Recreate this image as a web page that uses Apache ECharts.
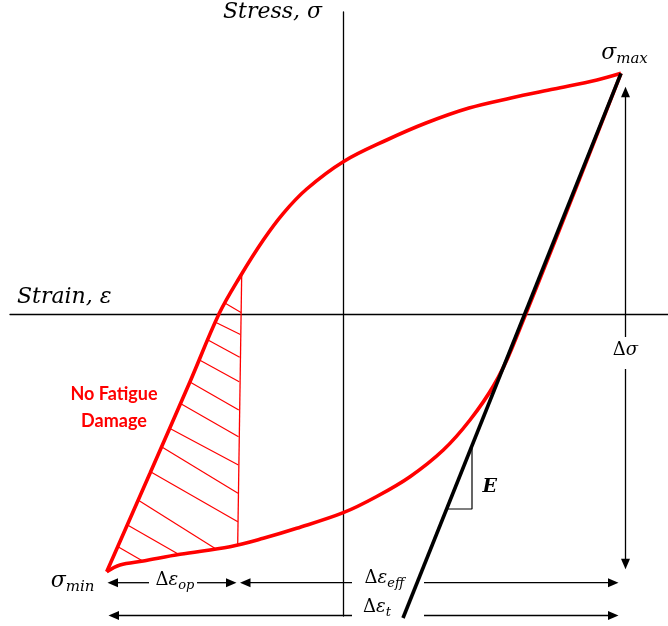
<!DOCTYPE html>
<html>
<head>
<meta charset="utf-8">
<script src="https://cdn.jsdelivr.net/npm/echarts@6/dist/echarts.min.js"></script>
<style>
  html, body { margin: 0; padding: 0; background: #fff; }
  #chart { width: 668px; height: 626px; }
</style>
</head>
<body>
<div id="chart"></div>
<script>
// Cyclic stress–strain hysteresis loop with crack-closure (effective strain range).
// Units are arbitrary; the origin is where the strain and stress axes cross.

// Loading branch, from sigma_min up to sigma_max
const loadStrain = [-236.3, -193, -153, -123.7, -103, -79.7, -59.7, -36.3, 0.3, 43.7, 83, 126, 168, 211, 254, 278];
const loadStress = [-257.7, -159.3, -67.7, 0.7, 37.3, 74, 100.7, 125, 152.3, 174, 191, 206, 216, 225, 234, 240.7];

// Unloading branch, from sigma_max back down to sigma_min
const unloadStrain = [278, 169, 151, 127, 100.3, 67, 33.7, 0.3, -46.3, -79.7, -113, -163, -199.7, -223, -236.3];
const unloadStress = [240.7, -34, -71, -106, -136, -162.7, -182.5, -198.7, -214.3, -224.3, -232.7, -240.3, -247, -251, -257.7];

// Elastic line with modulus E, through sigma_max
const elasticStrain = [278, 60];
const elasticStress = [240.7, -304];

// Slope triangle marking E
const slopeStrain = [104, 129, 129];
const slopeStress = [-195, -195, -134];

// Crack-opening cut-off: top on the loading branch, bottom on the unloading branch
const openingStrain = [-101.3, -105.3];
const openingStress = [40, -230];

// Hatch strokes of the no-damage region (start on loading branch, end on cut-off / unloading branch)
const hatchStrain0 = [-119, -127, -135, -143.5, -153.5, -163, -173.5, -181.5, -192.5, -205, -215.5, -225];
const hatchStress0 = [11.5, -8.5, -26, -46, -67.7, -89.3, -114.3, -132.7, -157.7, -186, -211, -232.7];
const hatchStrain1 = [-102, -102.6, -103.3, -103.8, -104.2, -104.5, -104.6, -105, -105.2, -127.8, -164, -200.3];
const hatchStress1 = [1.5, -20.5, -43.3, -67.7, -96, -122.7, -151, -179.3, -207.7, -234.5, -240.5, -247];

// Range annotations: double-headed dimension arrows
const rangeNames = ['Δε_op', 'Δε_eff', 'Δε_t', 'Δσ'];
const rangeFrom  = [[-235.5, -268.7], [-103, -268.7], [-234.5, -301.5], [282.5, 227.3]];
const rangeTo    = [[-106.5, -268.7], [275.5, -268.7], [275.5, -301.5], [282.5, -255.3]];
const rangeGap   = [[-194, -146], [9, 81], [9, 81], [-23, -55]];

// Symbol labels: upright prefix, italic symbol, italic subscript
const symbolPre  = ['', '', 'Δ', 'Δ', 'Δ', 'Δ'];
const symbolBase = ['σ', 'σ', 'σ', 'ε', 'ε', 'ε'];
const symbolSub  = ['max', 'min', '', 'op', 'eff', 't'];
const symbolAt   = [[281.5, 260.7], [-270.5, -267], [282.5, -36.5], [-168, -266], [41.4, -264], [34, -293]];

const RED = '#ff0000';
const INK = '#000000';
const MATH_FONT = '"DejaVu Serif", "Liberation Serif", serif';

const pairs = (xs, ys) => xs.map((x, i) => [x, ys[i]]);

const measureCtx = document.createElement('canvas').getContext('2d');
function textWidth(str, font) {
  measureCtx.font = font;
  return measureCtx.measureText(str).width;
}

function textEl(x, y, text, font, fill, align) {
  return {
    type: 'text', x: x, y: y,
    style: { text: text, font: font, fill: fill, align: align || 'left', verticalAlign: 'middle',
             textAlign: align || 'left', textVerticalAlign: 'middle' }
  };
}

const chart = echarts.init(document.getElementById('chart'), null, { renderer: 'canvas' });

const option = {
  animation: false,
  backgroundColor: '#ffffff',
  grid: { left: 10, right: 0, top: 12, bottom: 10, containLabel: false },
  xAxis: {
    type: 'value', min: -333, max: 325,
    name: 'Strain, ε',
    nameLocation: 'start',
    nameGap: -7,
    nameTextStyle: {
      fontFamily: MATH_FONT, fontStyle: 'italic', fontSize: 22, color: INK,
      align: 'left', verticalAlign: 'bottom', padding: [0, 0, 6, 0]
    },
    axisLine: { onZero: true, lineStyle: { color: INK, width: 1.3 } },
    axisTick: { show: false }, axisLabel: { show: false }, splitLine: { show: false }
  },
  yAxis: {
    type: 'value', min: -302, max: 302,
    name: 'Stress, σ',
    nameLocation: 'end',
    nameGap: 0,
    nameTextStyle: {
      fontFamily: MATH_FONT, fontStyle: 'italic', fontSize: 22, color: INK,
      align: 'right', verticalAlign: 'middle', padding: [6, 21, 0, 0]
    },
    axisLine: { onZero: true, lineStyle: { color: INK, width: 1.3 } },
    axisTick: { show: false }, axisLabel: { show: false }, splitLine: { show: false }
  },
  series: [
    {
      name: 'hatch',
      type: 'custom',
      clip: false,
      z: 2,
      data: hatchStrain0.map((x, i) => [x, hatchStress0[i], hatchStrain1[i], hatchStress1[i]]),
      renderItem: function (params, api) {
        const a = api.coord([api.value(0), api.value(1)]);
        const b = api.coord([api.value(2), api.value(3)]);
        return { type: 'line', shape: { x1: a[0], y1: a[1], x2: b[0], y2: b[1] },
                 style: { stroke: RED, lineWidth: 1.2 } };
      }
    },
    {
      name: 'opening',
      type: 'line',
      data: pairs(openingStrain, openingStress),
      symbol: 'none', clip: false, z: 2,
      lineStyle: { color: RED, width: 1.3 }
    },
    {
      name: 'loading',
      type: 'line',
      data: pairs(loadStrain, loadStress),
      symbol: 'none', smooth: 0.35, clip: false, z: 3,
      lineStyle: { color: RED, width: 3.6 }
    },
    {
      name: 'unloading',
      type: 'line',
      data: pairs(unloadStrain, unloadStress),
      symbol: 'none', smooth: 0.35, clip: false, z: 3,
      lineStyle: { color: RED, width: 3.6 }
    },
    {
      name: 'ranges',
      type: 'custom',
      clip: false,
      z: 2,
      data: rangeNames.map((n, i) => [rangeFrom[i][0], rangeFrom[i][1], rangeTo[i][0], rangeTo[i][1]]),
      renderItem: function (params, api) {
        const i = params.dataIndex;
        const p1 = api.coord(rangeFrom[i]);
        const p2 = api.coord(rangeTo[i]);
        const horizontal = rangeFrom[i][1] === rangeTo[i][1];
        const g1 = horizontal ? api.coord([rangeGap[i][0], rangeFrom[i][1]]) : api.coord([rangeFrom[i][0], rangeGap[i][0]]);
        const g2 = horizontal ? api.coord([rangeGap[i][1], rangeFrom[i][1]]) : api.coord([rangeFrom[i][0], rangeGap[i][1]]);
        const len = Math.hypot(p2[0] - p1[0], p2[1] - p1[1]);
        const ux = (p2[0] - p1[0]) / len, uy = (p2[1] - p1[1]) / len;
        const L = 10.5, W = 4.5;
        const head = (tip, dx, dy) => ({
          type: 'polygon',
          shape: { points: [tip, [tip[0] - dx * L - dy * W, tip[1] - dy * L + dx * W],
                                 [tip[0] - dx * L + dy * W, tip[1] - dy * L - dx * W]] },
          style: { fill: INK }
        });
        const seg = (a, b) => ({ type: 'line', shape: { x1: a[0], y1: a[1], x2: b[0], y2: b[1] },
                                 style: { stroke: INK, lineWidth: 1.3 } });
        const s1 = [p1[0] + ux * (L - 1), p1[1] + uy * (L - 1)];
        const s2 = [p2[0] - ux * (L - 1), p2[1] - uy * (L - 1)];
        return { type: 'group', children: [
          seg(s1, g1), seg(g2, s2),
          head(p1, -ux, -uy), head(p2, ux, uy)
        ] };
      }
    },
    {
      name: 'elastic',
      type: 'line',
      data: pairs(elasticStrain, elasticStress),
      symbol: 'none', clip: false, z: 5,
      lineStyle: { color: INK, width: 3.6 }
    },
    {
      name: 'slope',
      type: 'line',
      data: pairs(slopeStrain, slopeStress),
      symbol: 'none', clip: false, z: 4,
      lineStyle: { color: INK, width: 1.2 }
    },
    {
      name: 'labels',
      type: 'custom',
      clip: false,
      z: 6,
      data: symbolAt,
      renderItem: function (params, api) {
        const i = params.dataIndex;
        const p = api.coord([api.value(0), api.value(1)]);
        const big = symbolPre[i] ? 18 : 22;
        const small = symbolPre[i] ? 13 : 15;
        const preFont = `${big}px ${MATH_FONT}`;
        const baseFont = `italic ${big}px ${MATH_FONT}`;
        const subFont = `italic ${small}px ${MATH_FONT}`;
        const wPre = symbolPre[i] ? textWidth(symbolPre[i], preFont) : 0;
        const wBase = textWidth(symbolBase[i], baseFont);
        const wSub = symbolSub[i] ? textWidth(symbolSub[i], subFont) : 0;
        let x = p[0] - (wPre + wBase + wSub) / 2;
        const kids = [];
        if (symbolPre[i]) { kids.push(textEl(x, p[1], symbolPre[i], preFont, INK)); x += wPre; }
        kids.push(textEl(x, p[1], symbolBase[i], baseFont, INK)); x += wBase;
        if (symbolSub[i]) kids.push(textEl(x, p[1] + 6, symbolSub[i], subFont, INK));
        return { type: 'group', children: kids };
      }
    },
    {
      name: 'notes',
      type: 'custom',
      clip: false,
      z: 6,
      data: [[-229, -93.5], [146.7, -172.7]],
      renderItem: function (params, api) {
        const p = api.coord([api.value(0), api.value(1)]);
        if (params.dataIndex === 0) {
          return {
            type: 'text', x: p[0], y: p[1],
            style: { text: 'No Fatigue\nDamage', font: 'bold 18px Lato, "Open Sans", sans-serif',
                     fill: RED, align: 'center', verticalAlign: 'middle',
                     textAlign: 'center', textVerticalAlign: 'middle', lineHeight: 27 }
          };
        }
        return textEl(p[0], p[1], 'E', `italic bold 19px ${MATH_FONT}`, INK, 'center');
      }
    }
  ]
};

chart.setOption(option);
</script>
</body>
</html>
